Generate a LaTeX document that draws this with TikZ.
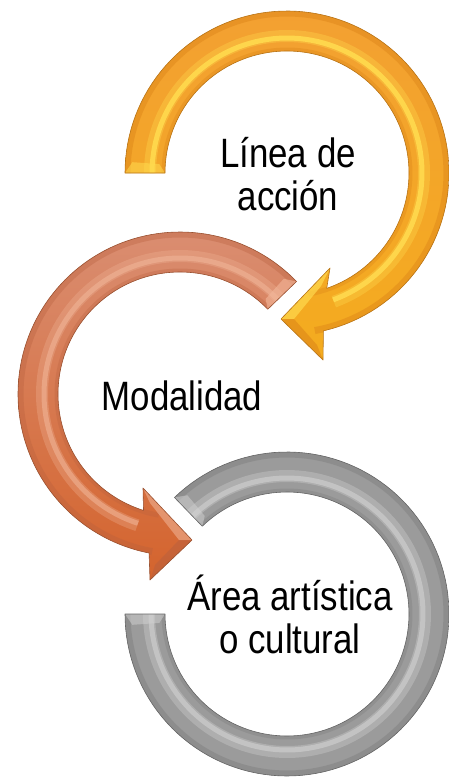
\documentclass[tikz,border=0pt]{standalone}
\usepackage{fontspec}
\setmainfont{Liberation Sans}[FakeStretch=0.85]
\definecolor{orTop}{HTML}{F3A032}
\definecolor{orBot}{HTML}{F4AC1E}
\definecolor{orHi}{HTML}{FFDA4E}
\definecolor{orDark}{HTML}{DC8418}
\definecolor{orLine}{HTML}{B87418}
\definecolor{cuTop}{HTML}{DA8E72}
\definecolor{cuBot}{HTML}{D4632C}
\definecolor{cuHi}{HTML}{F2B79A}
\definecolor{cuDark}{HTML}{B8603E}
\definecolor{cuLine}{HTML}{9A5232}
\definecolor{grBase}{HTML}{9B9B9B}
\definecolor{grHi}{HTML}{D2D2D2}
\definecolor{grDark}{HTML}{7E7E7E}
\definecolor{grLine}{HTML}{666666}
\begin{document}
\begin{tikzpicture}[x=1pt,y=-1pt,
  lbl/.style={font=\fontsize{41}{43}\selectfont, inner sep=0pt, align=center, text=black},
  edge/.style={line width=0.6pt, line join=round}]
\useasboundingbox (0,0) rectangle (449,779);

% ---------------- orange arrow (Linea de accion) ----------------
\path[save path=\pOrange]
  plot[domain=180:437, samples=100] ({287+162*cos(\x)},{173+162*sin(\x)})
  -- (323,360) -- (281,319) -- (330,268)
  -- plot[domain=431:180, samples=100] ({287+122*cos(\x)},{173+122*sin(\x)}) -- cycle;
\begin{scope}
  \clip[use path=\pOrange];
  \shade[top color=orTop, bottom color=orBot] (120,5) rectangle (449,365);
  \draw[line width=7pt, orDark, opacity=.45] plot[domain=170:440, samples=100] ({287+160*cos(\x)},{173+160*sin(\x)});
  \draw[line width=5pt, orDark, opacity=.35] plot[domain=170:440, samples=100] ({287+123*cos(\x)},{173+123*sin(\x)});
  \draw[line width=12pt, orHi, opacity=.35] plot[domain=170:430, samples=100] ({287+137*cos(\x)},{173+137*sin(\x)});
  \draw[line width=5pt, orHi, opacity=.9] plot[domain=170:430, samples=100] ({287+135*cos(\x)},{173+135*sin(\x)});
  % tail bevel
  \fill[orHi, opacity=.55] (125,173) -- (165,173) -- ({287+128*cos(184)},{173+128*sin(184)}) -- ({287+155*cos(184)},{173+155*sin(184)}) -- cycle;
  % head bevels
  \fill[orHi, opacity=.7] (281,319) -- (330,268) -- (321,286) -- (294,319) -- cycle;
  \fill[orDark, opacity=.55] (281,319) -- (323,360) -- (317,345) -- (294,319) -- cycle;
\end{scope}
\draw[edge, orLine, use path=\pOrange];

% ---------------- copper arrow (Modalidad) ----------------
\path[save path=\pCopper]
  plot[domain=316:101, samples=100] ({180+162*cos(\x)},{394+162*sin(\x)})
  -- (150,580) -- (192,540) -- (143,488)
  -- plot[domain=107.4:316, samples=100] ({180+122*cos(\x)},{394+122*sin(\x)}) -- cycle;
\begin{scope}
  \clip[use path=\pCopper];
  \shade[top color=cuTop, bottom color=cuBot] (10,225) rectangle (305,585);
  \draw[line width=7pt, cuDark, opacity=.35] plot[domain=100:320, samples=100] ({180+160*cos(\x)},{394+160*sin(\x)});
  \draw[line width=5pt, cuDark, opacity=.3] plot[domain=100:320, samples=100] ({180+123*cos(\x)},{394+123*sin(\x)});
  \draw[line width=12pt, cuHi, opacity=.3] plot[domain=108:320, samples=100] ({180+138*cos(\x)},{394+138*sin(\x)});
  \draw[line width=5pt, cuHi, opacity=.55] plot[domain=108:320, samples=100] ({180+136*cos(\x)},{394+136*sin(\x)});
  % tail bevel
  \fill[cuHi, opacity=.6] ({180+162*cos(316)},{394+162*sin(316)}) -- ({180+122*cos(316)},{394+122*sin(316)}) -- ({180+128*cos(312)},{394+128*sin(312)}) -- ({180+155*cos(312)},{394+155*sin(312)}) -- cycle;
  % head bevels
  \fill[cuHi, opacity=.55] (192,540) -- (143,488) -- (150,503) -- (179,540) -- cycle;
  \fill[cuDark, opacity=.5] (192,540) -- (150,580) -- (155,565) -- (179,540) -- cycle;
\end{scope}
\draw[edge, cuLine, use path=\pCopper];

% ---------------- gray ring (Area artistica o cultural) ----------------
\path[save path=\pGray]
  plot[domain=226:540, samples=120] ({287+162*cos(\x)},{614+162*sin(\x)})
  -- plot[domain=540:226, samples=120] ({287+122*cos(\x)},{614+122*sin(\x)}) -- cycle;
\begin{scope}
  \clip[use path=\pGray];
  \fill[grBase] (120,445) rectangle (449,779);
  \draw[line width=7pt, grDark, opacity=.45] plot[domain=220:545, samples=120] ({287+160*cos(\x)},{614+160*sin(\x)});
  \draw[line width=5pt, grDark, opacity=.35] plot[domain=220:545, samples=120] ({287+123*cos(\x)},{614+123*sin(\x)});
  \draw[line width=12pt, grHi, opacity=.35] plot[domain=220:545, samples=120] ({287+138*cos(\x)},{614+138*sin(\x)});
  \draw[line width=5pt, grHi, opacity=.6] plot[domain=220:545, samples=120] ({287+136*cos(\x)},{614+136*sin(\x)});
  % end bevels
  \fill[grHi, opacity=.5] ({287+162*cos(226)},{614+162*sin(226)}) -- ({287+122*cos(226)},{614+122*sin(226)}) -- ({287+128*cos(230)},{614+128*sin(230)}) -- ({287+155*cos(230)},{614+155*sin(230)}) -- cycle;
  \fill[grHi, opacity=.5] (125,614) -- (165,614) -- ({287+128*cos(536)},{614+128*sin(536)}) -- ({287+155*cos(536)},{614+155*sin(536)}) -- cycle;
\end{scope}
\draw[edge, grLine, use path=\pGray];

% ---------------- labels ----------------
\node[lbl, anchor=base] (linea) at (288,210) {Línea de\\acción};
\node[lbl, anchor=base] (modal) at (182,410) {Modalidad};
\node[lbl, anchor=base] (area) at (290,653) {Área artística\\o cultural};
\end{tikzpicture}
\end{document}
